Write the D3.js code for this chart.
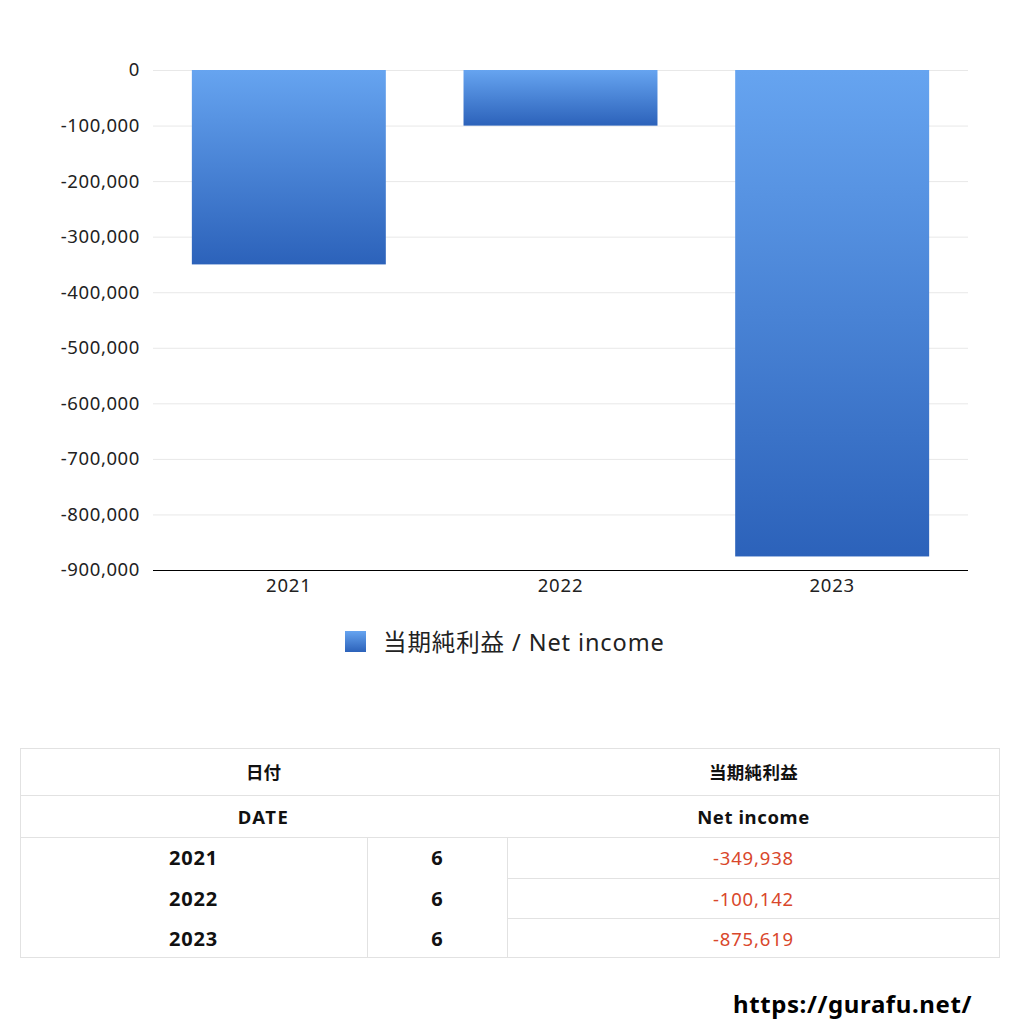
<!DOCTYPE html>
<html><head><meta charset="utf-8">
<script src="https://cdn.jsdelivr.net/npm/d3@7"></script>
<style>
body{margin:0;background:#fff;font-family:"Noto Sans","Noto Sans CJK JP",sans-serif;}
svg{display:block}
</style></head><body>
<svg id="c" width="1024" height="1024"></svg>
<script>
const categories = ["2021","2022","2023"];
const netIncome = [-349938, -100142, -875619];
const yTicks = [0,-100000,-200000,-300000,-400000,-500000,-600000,-700000,-800000,-900000];
const months = ["6","6","6"];
const seriesNameJa = "当期純利益";
const seriesNameEn = "Net income";

(function(){
const svg = d3.select("#c");
const font = '"Noto Sans","Noto Sans CJK JP",sans-serif';
const pL=153, pR=968, pT=70, pB=570;

const defs = svg.append("defs");
const g = defs.append("linearGradient").attr("id","barGrad").attr("x1",0).attr("y1",0).attr("x2",0).attr("y2",1);
g.append("stop").attr("offset","0%").attr("stop-color","#66a4f0");
g.append("stop").attr("offset","100%").attr("stop-color","#2c62ba");

const x = d3.scaleBand().domain(categories).range([pL,pR]).paddingInner(0.286).paddingOuter(0.143);
const y = d3.scaleLinear().domain([-900000,0]).range([pB,pT]);

svg.append("g").selectAll("line").data(yTicks).join("line")
  .attr("x1",pL).attr("x2",pR).attr("y1",d=>y(d)+0.5).attr("y2",d=>y(d)+0.5)
  .attr("stroke","#e8e8e8").attr("stroke-width",1);

const fmt=d3.format(",");
const yAxis = d3.axisLeft(y).tickValues(yTicks).tickSize(0).tickPadding(13).tickFormat(d=>fmt(d).replace("−","-"));
const ya = svg.append("g").attr("transform",`translate(${pL},0)`).call(yAxis);
ya.select(".domain").remove();
ya.selectAll("text").attr("font-family",font).attr("font-size",18.5).attr("letter-spacing","0.6px").attr("fill","#222");

svg.append("g").selectAll("rect").data(netIncome).join("rect")
  .attr("x",(d,i)=>x(categories[i])).attr("width",x.bandwidth())
  .attr("y",d=>y(Math.max(0,d))).attr("height",d=>Math.abs(y(d)-y(0)))
  .attr("fill","url(#barGrad)");

const xAxis = d3.axisBottom(x).tickSize(0).tickPadding(9);
const xa = svg.append("g").attr("transform",`translate(0,${pB})`).call(xAxis);
xa.select(".domain").attr("stroke","#000").attr("d",`M${pL},0.5H${pR}`);
xa.selectAll("text").attr("font-family",font).attr("font-size",18.5).attr("letter-spacing","0.8px").attr("fill","#222");

svg.append("rect").attr("x",345).attr("y",631).attr("width",21).attr("height",21).attr("fill","url(#barGrad)");
svg.append("text").attr("x",383).attr("y",651).attr("font-family",font).attr("font-size",23.5).attr("letter-spacing","0.9px").attr("fill","#222")
  .text(seriesNameJa+" / "+seriesNameEn);

const tL=20,tR=1000,c1=367,c2=507;
const rowsY=[748,795,837,878,918,958];
const border="#e2e2e2";
const tg=svg.append("g");
function line(x1,y1,x2,y2){tg.append("line").attr("x1",x1).attr("y1",y1).attr("x2",x2).attr("y2",y2).attr("stroke",border).attr("stroke-width",1);}
line(tL,rowsY[0]+0.5,tR,rowsY[0]+0.5);
line(tL,rowsY[1]+0.5,tR,rowsY[1]+0.5);
line(tL,rowsY[2]+0.5,tR,rowsY[2]+0.5);
line(c2,rowsY[3]+0.5,tR,rowsY[3]+0.5);
line(c2,rowsY[4]+0.5,tR,rowsY[4]+0.5);
line(tL,rowsY[5]-0.5,tR,rowsY[5]-0.5);
line(tL+0.5,rowsY[0],tL+0.5,rowsY[5]);
line(tR-0.5,rowsY[0],tR-0.5,rowsY[5]);
line(c1+0.5,rowsY[2],c1+0.5,rowsY[5]);
line(c2+0.5,rowsY[2],c2+0.5,rowsY[5]);

function txt(xp,yp,s,opts={}){
  tg.append("text").attr("x",xp).attr("y",yp).attr("text-anchor","middle").attr("dominant-baseline","central")
   .attr("font-family",font).attr("font-size",opts.size||17).attr("font-weight",opts.bold?"bold":"normal")
   .attr("letter-spacing",(opts.ls||0)+"px")
   .attr("fill",opts.fill||"#111").text(s);
}
txt((tL+c2)/2,772,"日付",{bold:true,size:17.5});
txt((c2+tR)/2,772,seriesNameJa,{bold:true,size:17.5,ls:0.3});
txt((tL+c2)/2,816,"DATE",{bold:true,size:18.5,ls:1.5});
txt((c2+tR)/2,816,seriesNameEn,{bold:true,size:18.5,ls:0.6});
categories.forEach((c,i)=>{
  const cy=(rowsY[i+2]+rowsY[i+3])/2;
  txt((tL+c1)/2,cy,c,{bold:true,size:20,ls:0.8});
  txt((c1+c2)/2,cy,months[i],{bold:true,size:20});
  txt((c2+tR)/2,cy,fmt(netIncome[i]).replace("−","-"),{size:18.5,ls:0.8,fill:"#d9472b"});
});

svg.append("text").attr("x",972).attr("y",1013).attr("text-anchor","end").attr("font-family",font)
  .attr("font-size",24).attr("font-weight","bold").attr("letter-spacing","0.6px").attr("fill","#000").text("https://gurafu.net/");
})();
</script>
</body></html>
